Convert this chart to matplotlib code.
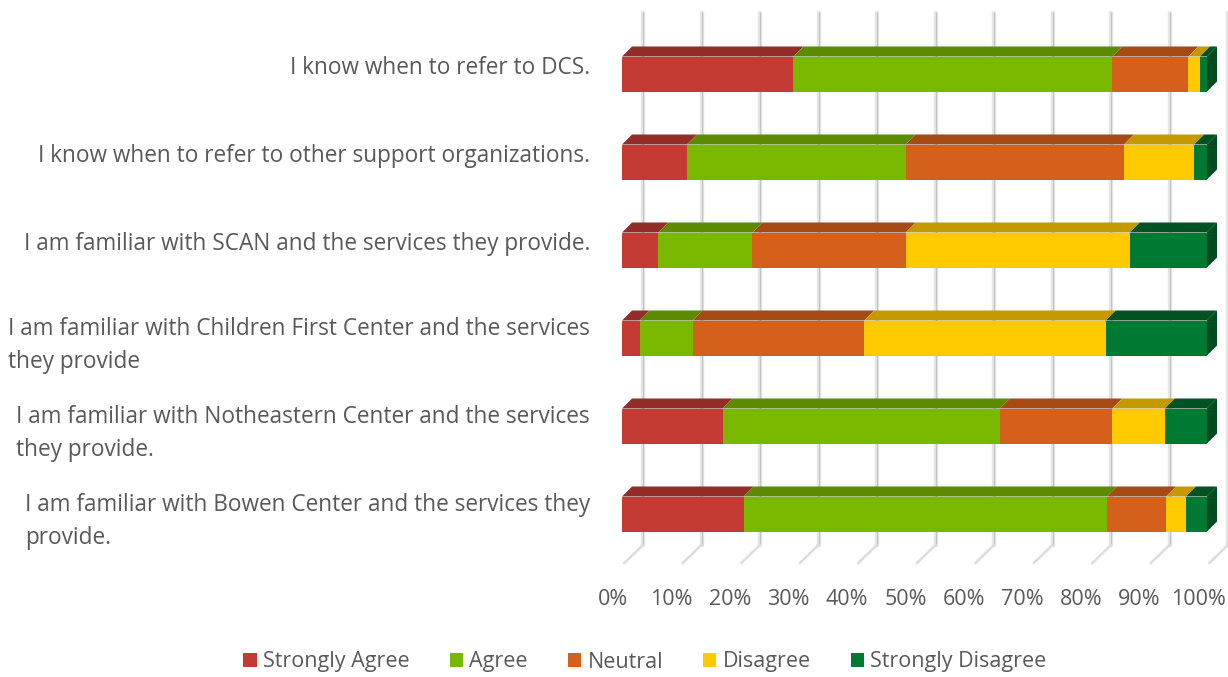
import numpy as np
import matplotlib
matplotlib.use("Agg")
import matplotlib.pyplot as plt
from matplotlib.patches import Polygon, Patch
from matplotlib.transforms import ScaledTranslation, blended_transform_factory

plt.rcParams['font.family'] = ['Open Sans', 'DejaVu Sans']

# --- data (percent of responses) ---
questions = [
    "I know when to refer to DCS.",
    "I know when to refer to other support organizations.",
    "I am familiar with SCAN and the services they provide.",
    "I am familiar with Children First Center and the services\nthey provide",
    "I am familiar with Notheastern Center and the services\nthey provide.",
    "I am familiar with Bowen Center and the services they\nprovide.",
]
responses = ["Strongly Agree", "Agree", "Neutral", "Disagree", "Strongly Disagree"]
strongly_agree = [29.3, 11.1, 6.2, 3.0, 17.2, 20.8]
agree = [54.5, 37.4, 16.1, 9.1, 47.4, 62.1]
neutral = [13.0, 37.3, 26.2, 29.3, 19.2, 10.1]
disagree = [2.0, 12.0, 38.3, 41.3, 9.0, 3.4]
strongly_disagree = [1.2, 2.2, 13.2, 17.3, 7.2, 3.6]
x_ticks = np.arange(0, 101, 10)

front_cols = ['#C33B33', '#7AB800', '#D4601B', '#FFCA00', '#007A33']
top_cols = ['#922D28', '#5C8A00', '#A54A14', '#C49A00', '#005224']
side_col = '#004A1F'
txt = '#595959'

W, H = 1228, 677
fig = plt.figure(figsize=(W / 100, H / 100), dpi=100)
# axes in pixels: x 600..1228, y 10..575 from top
ax = fig.add_axes([600 / W, (H - 575) / H, 628 / W, 565 / H])
px_x = 585.0   # pixels per 100%
px_y = 88.0    # pixels per row
ax.set_xlim((600 - 622) / px_x, (1228 - 622) / px_x)
ax.set_ylim((575 - 74) / px_y, (10 - 74) / px_y)

dx = 10 / px_x      # bar depth
dy = 10 / px_y
bh = 35 / px_y      # bar height
wall = 21 / px_x    # back wall offset
g_top = (13 - 74) / px_y
g_bot = (545 - 74) / px_y
f_bot = (563 - 74) / px_y

# 3D-ish gridlines on the back wall plus floor lines
for t in x_ticks / 100:
    gx = t + wall
    ax.plot([gx, gx], [g_top, g_bot], color='#E6E6E6', lw=3.2, zorder=0, solid_capstyle='round')
    ax.plot([gx, gx], [g_top, g_bot], color='#C4C4C4', lw=0.9, zorder=0)
    ax.plot([gx, t + 0.004], [g_bot, f_bot], color='#DCDCDC', lw=1.8, zorder=0)

series = [strongly_agree, agree, neutral, disagree, strongly_disagree]
ypos = np.arange(len(questions))
totals = np.sum(series, axis=0)
left = np.zeros(len(questions))
for k, vals in enumerate(series):
    w = np.array(vals) / totals
    ax.barh(ypos, w, left=left, height=bh, color=front_cols[k], zorder=3)
    for i in range(len(questions)):
        y0 = ypos[i] - bh / 2
        x0, x1 = left[i], left[i] + w[i]
        ax.add_patch(Polygon([(x0, y0), (x1, y0), (x1 + dx, y0 - dy), (x0 + dx, y0 - dy)],
                             closed=True, facecolor=top_cols[k], edgecolor='none', zorder=2))
    left = left + w

# right side face of the stacks
for i in range(len(questions)):
    y0, y1 = ypos[i] - bh / 2, ypos[i] + bh / 2
    ax.add_patch(Polygon([(1, y0), (1 + dx, y0 - dy), (1 + dx, y1 - dy), (1, y1)],
                         closed=True, facecolor=side_col, edgecolor='none', zorder=4))

# category labels (first line sits just above the bar centre, extra lines hang below)
lab_tr = blended_transform_factory(fig.transFigure, ax.transData)
for i, q in enumerate(questions):
    n_extra = q.count('\n')
    ax.text(590 / W, ypos[i] + (0.5 + 30 * n_extra) / px_y, q, transform=lab_tr,
            ha='right', va='baseline', multialignment='left', fontsize=16.3,
            color=txt, linespacing=1.52)

ax.set_yticks([])
ax.set_xticks(x_ticks / 100)
ax.set_xticklabels([f"{v}%" for v in x_ticks], fontsize=15.5, color=txt)
ax.tick_params(axis='x', length=0, pad=10)
shift = ScaledTranslation(-9 / 100, 0, fig.dpi_scale_trans)
for lab in ax.get_xticklabels():
    lab.set_transform(lab.get_transform() + shift)
for s in ax.spines.values():
    s.set_visible(False)

handles = [Patch(facecolor=c, edgecolor='none') for c in front_cols]
fig.legend(handles, responses, loc='center', bbox_to_anchor=(645 / W, 1 - 662 / H),
           ncol=5, frameon=False, fontsize=15.5, labelcolor=txt,
           handlelength=0.62, handleheight=0.62, handletextpad=0.3, columnspacing=1.85)

fig.savefig("out.png", dpi=100)
